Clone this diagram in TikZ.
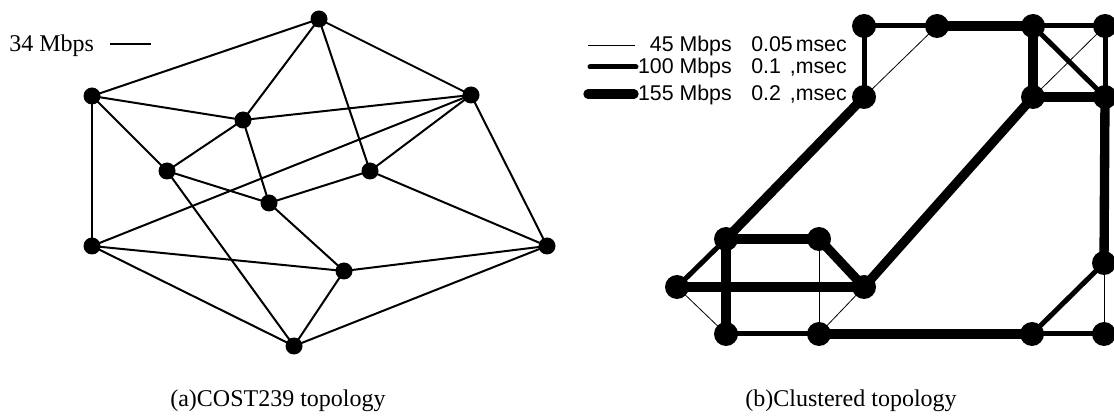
\documentclass[tikz,border=0pt]{standalone}
\usepackage{fontspec}
\setmainfont{Liberation Serif}
\newfontfamily\legendfont{Liberation Sans}
\usetikzlibrary{backgrounds}

\begin{document}
\begin{tikzpicture}[
    x=0.75pt, y=-0.75pt,
    % --- Styles ---
    % Left network: small dots, plain links
    cost node/.style={circle, fill=black, inner sep=0pt, minimum size=12.75pt},
    cost link/.style={draw=black, line width=1.5pt},
    % Right network: big dots, links drawn by capacity
    clu node/.style={circle, fill=black, inner sep=0pt, minimum size=18pt},
    link45/.style={draw=black, line width=0.6pt},
    link100/.style={draw=black, line width=3.75pt, line cap=round},
    link155/.style={draw=black, line width=7pt, line cap=round},
    % Text
    serif label/.style={font=\fontsize{18}{20}\selectfont, inner sep=0pt},
    sans label/.style={font=\legendfont\fontsize{16}{18}\selectfont, inner sep=0pt}
]
\useasboundingbox (0,0) rectangle (1114,420);

%================COST239 TOPOLOGY================
\foreach \n/\x/\y in {1/319/19, 2/92/96, 3/471/95, 4/243/120, 5/167/171,
                      6/370/171, 7/269/203, 8/92/246, 9/547/246, 10/344/271,
                      11/294/346}
    \node[cost node] (c\n) at (\x,\y) {};

\begin{scope}[on background layer]
\foreach \a/\b in {1/2, 1/4, 1/6, 1/3, 2/4, 2/5, 2/8, 4/3, 4/5, 4/7, 3/6, 3/8,
                   3/9, 5/7, 5/11, 6/7, 6/9, 7/10, 8/10, 8/11, 9/10, 9/11, 10/11}
    \draw[cost link] (c\a.center) -- (c\b.center);
\end{scope}

% Key
\node[serif label, anchor=base west] (costkey) at (9,52) {34 Mbps};
\coordinate (costA) at (110,44);
\coordinate (costB) at (151,44);
\draw[cost link] (costA) -- (costB);

\node[serif label, anchor=base] (capA) at (278,406) {(a)COST239 topology};

%================CLUSTERED TOPOLOGY================
\foreach \n/\x/\y in {1/864/26, 2/937/26, 3/1033/26, 4/1105/26, 5/864/97,
                      6/1033/97, 7/1105/97, 8/726/239, 9/819/239, 10/677/287,
                      11/864/287, 12/726/334, 13/819/334, 14/1032/334,
                      15/1104/263, 16/1104/334}
    \node[clu node] (k\n) at (\x,\y) {};

\begin{scope}[on background layer]
% 45 Mbps
\foreach \a/\b in {2/5, 4/6, 9/13, 10/12, 11/13, 15/16}
    \draw[link45] (k\a.center) -- (k\b.center);
% 100 Mbps
\foreach \a/\b in {1/2, 3/4, 1/5, 3/7, 4/7, 8/10, 12/13, 14/16, 14/15}
    \draw[link100] (k\a.center) -- (k\b.center);
% 155 Mbps
\foreach \a/\b in {2/3, 3/6, 6/7, 5/8, 6/11, 7/15, 8/9, 8/12, 9/11, 10/11, 13/14}
    \draw[link155] (k\a.center) -- (k\b.center);
\end{scope}

% Key
\coordinate (keyA1) at (588,45);   \coordinate (keyB1) at (635,45);
\coordinate (keyA2) at (590,67);   \coordinate (keyB2) at (636,67);
\coordinate (keyA3) at (588,94);   \coordinate (keyB3) at (634,94);
\draw[link45] (keyA1) -- (keyB1);
\draw[link100] (keyA2) -- (keyB2);
\draw[link155] (keyA3) -- (keyB3);

\node[sans label, anchor=base east] (rate1) at (732,52) {45 Mbps};
\node[sans label, anchor=base west] (delay1) at (751,52) {0.05};
\node[sans label, anchor=base east] (unit1) at (847,52) {msec};
\node[sans label, anchor=base east] (rate2) at (732,74) {100 Mbps};
\node[sans label, anchor=base west] (delay2) at (751,74) {0.1};
\node[sans label, anchor=base east] (unit2) at (847,74) {,msec};
\node[sans label, anchor=base east] (rate3) at (732,101) {155 Mbps};
\node[sans label, anchor=base west] (delay3) at (751,101) {0.2};
\node[sans label, anchor=base east] (unit3) at (847,101) {,msec};

\node[serif label, anchor=base] (capB) at (851,406) {(b)Clustered topology};

\end{tikzpicture}
\end{document}
